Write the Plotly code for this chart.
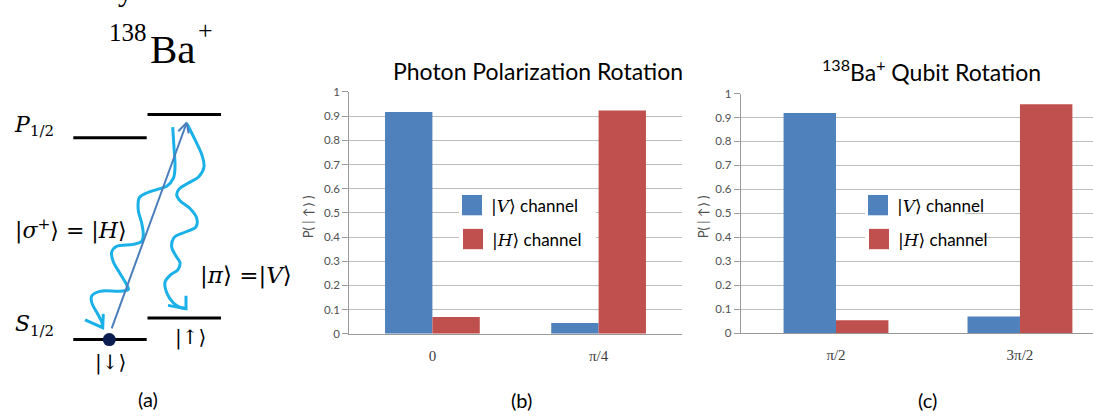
import plotly.graph_objects as go

W, H = 1093, 417

# ---- data -------------------------------------------------------------
series_names = ["|V⟩ channel", "|H⟩ channel"]
series_colors = ["#4f81bd", "#c0504d"]

photon_angles = ["0", "π/4"]
photon_v = [0.917, 0.045]
photon_h = [0.069, 0.923]

qubit_angles = ["π/2", "3π/2"]
qubit_v = [0.919, 0.070]
qubit_h = [0.054, 0.955]

# ---- styles -----------------------------------------------------------
SANS = "Lato, 'Open Sans', sans-serif"
SERIF = "'Liberation Serif', 'Times New Roman', serif"
MATH = "'DejaVu Serif', serif"
GRID = "#bdbdbd"
AXIS = "#9a9a9a"
TICK_TXT = "#505050"
WAVE = "#1ab0e8"
ARROW = "#4a7ebb"

fig = go.Figure()

# ---- bar charts (b) and (c) -------------------------------------------
for xa, ya, cats, v, h in [("x", "y", photon_angles, photon_v, photon_h),
                           ("x2", "y2", qubit_angles, qubit_v, qubit_h)]:
    for name, col, vals in zip(series_names, series_colors, [v, h]):
        fig.add_trace(go.Bar(x=cats, y=vals, name=name, marker_color=col,
                             marker_line_width=0, xaxis=xa, yaxis=ya,
                             showlegend=False))

# ---- energy level diagram (a), drawn on a pixel-mapped hidden axis ------
def line_trace(xs, ys, color, width, spline=False):
    fig.add_trace(go.Scatter(x=xs, y=ys, mode="lines", xaxis="x3", yaxis="y3",
                             line=dict(color=color, width=width,
                                       shape="spline" if spline else "linear",
                                       smoothing=1.0),
                             hoverinfo="skip", showlegend=False))

# sigma+ photon (wavy, down-left)
sig_x = [172.7, 174, 175, 173.3, 166.7, 156.7, 146.7, 139.3, 138.3, 141.7, 143.3,
         141.7, 133.3, 116.7, 111.7, 113.3, 120, 126.7, 128.3, 120, 100, 91.7, 91.7,
         96.7, 101.7, 102.7]
sig_y = [124, 145, 165, 177, 185, 188.5, 192, 197, 210, 223, 235, 241.7, 245, 247,
         253, 263, 275, 286.7, 291.7, 293.3, 293.5, 298.3, 305, 315, 325, 330.7]
line_trace(sig_x, sig_y, WAVE, 3, spline=True)
line_trace([85, 102.7, 103.3], [323, 331, 316.7], WAVE, 3)

# pi photon (wavy, down)
pi_x = [187.3, 195, 202, 204, 199, 188, 179, 176.7, 180, 190, 196.7, 196, 186,
        174, 171.7, 176, 180, 178, 170, 165, 166.7, 173, 180, 186]
pi_y = [121, 137, 153, 165, 175, 182, 188, 194, 200, 208, 218, 227, 232, 238, 248,
        257, 264, 271, 277, 284, 295, 305, 310, 311]
line_trace(pi_x, pi_y, WAVE, 3, spline=True)
line_trace([168, 186, 186], [308, 311.5, 298], WAVE, 3)

# excitation arrow
line_trace([111.7, 186.7], [331.7, 119.5], ARROW, 2)
line_trace([178.3, 186.7, 188.6], [128.3, 119.5, 130.5], ARROW, 2)

# ion in |down>
fig.add_trace(go.Scatter(x=[109.3], y=[343.3], mode="markers", xaxis="x3", yaxis="y3",
                         marker=dict(size=13, color="#0b1d51"),
                         hoverinfo="skip", showlegend=False))

shapes = []
for x0, x1, y in [(147.5, 221, 111), (73.3, 146.7, 135),
                  (147.5, 221, 321), (73.3, 146.7, 343.3)]:
    shapes.append(dict(type="line", xref="x3", yref="y3", x0=x0, x1=x1, y0=y, y1=y,
                       line=dict(color="black", width=3), layer="below"))

annotations = []

def text(x, y, s, size, family=SANS, color="black", xanchor="center", angle=0):
    annotations.append(dict(x=x, y=y, xref="x3", yref="y3", text=s, showarrow=False,
                            xanchor=xanchor, yanchor="middle", textangle=angle,
                            font=dict(size=size, family=family, color=color)))

# tail of the line of text above the ion label, cut by the top edge
annotations.append(dict(x=125 / W, y=1 + 17.5 / H, xref="paper", yref="paper",
                        text="y", showarrow=False, xanchor="center", yanchor="middle",
                        font=dict(size=30, family=SERIF, color="black")))

text(128.3, 26.5, "138", 25, SERIF)
text(172.5, 43.5, "Ba", 41, SERIF)
text(205.5, 24, "+", 26, SERIF)

text(22.5, 121, "<i>P</i>", 22, MATH)
text(41.5, 127.5, "1/2", 15, MATH)
text(22.5, 327, "<i>S</i>", 22, MATH)
text(41.5, 334, "1/2", 15, MATH)

text(70.7, 230, "|<i>σ</i><sup>+</sup>⟩ = |<i>H</i>⟩", 22, MATH)
text(246, 277, "|<i>π</i>⟩ =|<i>V</i>⟩", 23, MATH)
text(110.5, 367, "|↓⟩", 20, MATH)
text(190, 341, "|↑⟩", 20, MATH)

text(148, 405, "(a)", 20)
text(521, 406, "(b)", 20)
text(927, 406, "(c)", 20)

# chart titles and y-axis titles
text(538, 66, "Photon Polarization Rotation", 23)
text(931, 66, "<sup>138</sup>Ba<sup>+</sup> Qubit Rotation", 23)
text(308, 217, "P( | ↑⟩ )", 13, color=TICK_TXT, angle=-90)
text(703, 217, "P( | ↑⟩ )", 13, color=TICK_TXT, angle=-90)

# in-plot legends (white boxes over the gridlines)
for box, swatches in [((459, 190, 596, 254), [(462, 194, 482, 215), (463, 229, 483, 250)]),
                      ((865, 190, 965, 254), [(868, 194, 888, 215), (869, 229, 889, 250)])]:
    shapes.append(dict(type="rect", xref="x3", yref="y3", x0=box[0], y0=box[1],
                       x1=box[2], y1=box[3], fillcolor="white", line_width=0,
                       layer="above"))
    for (x0, y0, x1, y1), col, name in zip(swatches, series_colors, series_names):
        shapes.append(dict(type="rect", xref="x3", yref="y3", x0=x0, y0=y0, x1=x1,
                           y1=y1, fillcolor=col, line_width=0, layer="above"))
        sym, rest = name.split(" ", 1)
        label = (f"<span style=\"font-family:'DejaVu Serif',serif\">|<i>{sym[1]}</i>⟩</span> "
                 + rest)
        text(x1 + 7, (y0 + y1) / 2, label, 17, xanchor="left")

# ---- axes --------------------------------------------------------------
def xcat(domain, rng, anchor):
    return dict(domain=domain, range=rng, type="category", anchor=anchor,
                showline=True, linecolor=AXIS, linewidth=1, ticks="",
                showgrid=False, zeroline=False, fixedrange=True,
                ticklabelstandoff=8,
                tickfont=dict(family=SERIF, size=15, color="#404040"))

def yval(domain, anchor):
    return dict(domain=domain, range=[0, 1], dtick=0.1, tick0=0, anchor=anchor,
                showgrid=True, gridcolor=GRID, gridwidth=1, zeroline=False,
                showline=True, linecolor=AXIS, linewidth=1, ticks="outside",
                ticklen=6, tickcolor=AXIS, fixedrange=True,
                tickfont=dict(family=SANS, size=11.5, color=TICK_TXT))

fig.update_layout(
    width=W, height=H, margin=dict(l=0, r=0, t=0, b=0),
    paper_bgcolor="white", plot_bgcolor="rgba(0,0,0,0)",
    barmode="group", bargap=0.43, bargroupgap=0,
    xaxis=xcat([349.3 / W, 681.7 / W], [-0.5, 1.5], "y"),
    yaxis=yval([1 - 337.3 / H, 1 - 87.7 / H], "x"),
    xaxis2=xcat([740.7 / W, 1.0], [-0.518, 1.397], "y2"),
    yaxis2=yval([1 - 336.7 / H, 1 - 89.3 / H], "x2"),
    xaxis3=dict(domain=[0, 1], range=[0, W], visible=False, anchor="y3",
                fixedrange=True),
    yaxis3=dict(domain=[0, 1], range=[H, 0], visible=False, anchor="x3",
                fixedrange=True),
    shapes=shapes, annotations=annotations, showlegend=False,
)

fig.write_html("out.html")
